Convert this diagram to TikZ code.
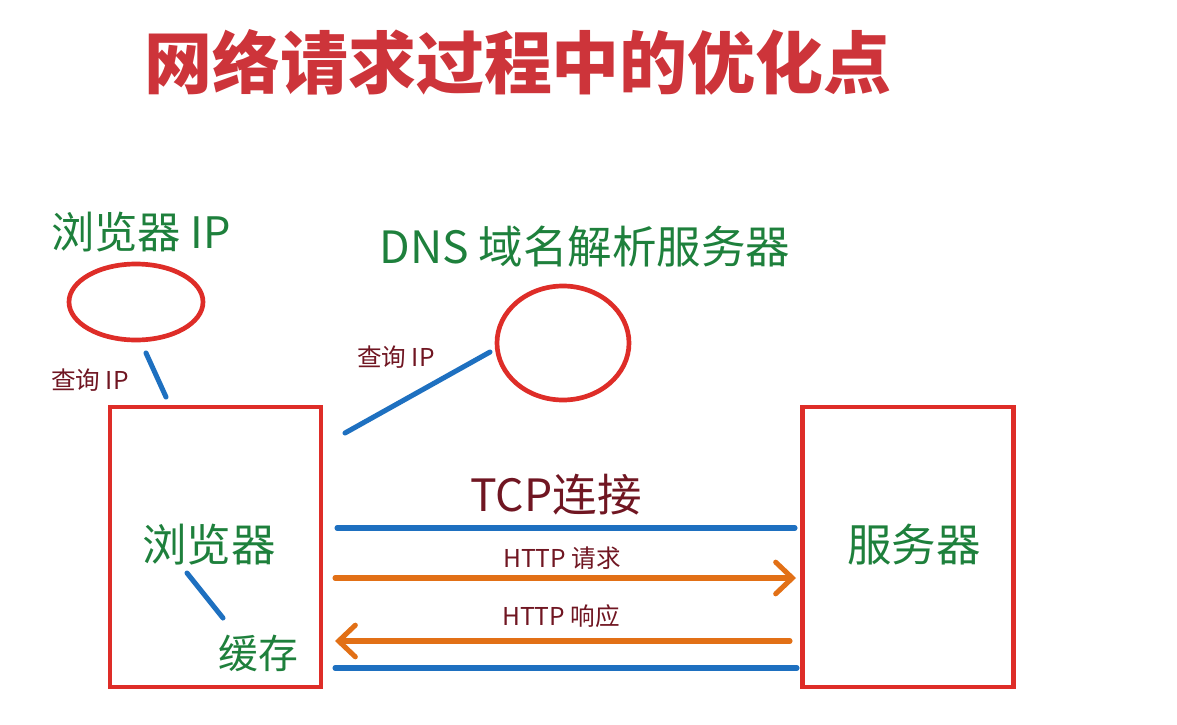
\documentclass[tikz,border=0pt]{standalone}
\usepackage{fontspec}
\setmainfont{Noto Sans CJK SC}[BoldFont={Noto Sans CJK SC Bold}]
\newfontfamily\heavyfont{Noto Sans CJK SC Black}
\usetikzlibrary{shapes.geometric,arrows.meta}
\definecolor{boxred}{RGB}{222,45,40}
\definecolor{linkblue}{RGB}{30,112,192}
\definecolor{reqorange}{RGB}{226,112,22}
\definecolor{labelgreen}{RGB}{30,128,60}
\definecolor{notered}{RGB}{112,22,34}
\definecolor{titlered}{RGB}{205,52,58}

\begin{document}
\begin{tikzpicture}[x=0.03cm,y=-0.03cm,
  box/.style={rectangle,draw=boxred,line width=3.5pt,minimum width=6.33cm,
              minimum height=8.4cm},
  oval/.style={ellipse,draw=boxred,line width=4pt,inner sep=0pt},
  big/.style={text=labelgreen,inner sep=0pt,font=\fontsize{38}{40}\selectfont},
  small/.style={text=notered,inner sep=0pt,font=\fontsize{21}{24}\selectfont},
  link/.style={draw=linkblue,line width=4.3pt,line cap=round},
  msg/.style={draw=reqorange,line width=4.3pt,line cap=round,
              -{Straight Barb[length=0.5cm,width=0.95cm,line cap=round]}}
]
\useasboundingbox (0,0) rectangle (1177,724);

% title
\node[text=titlered,inner sep=0pt,font=\fontsize{58}{60}\heavyfont] (title) at (518,62) {网络请求过程中的优化点};

% browser side
\node[big,font=\fontsize{37}{40}\selectfont] (bipl) at (141,232) {浏览器 IP};
\node[oval,minimum width=4.02cm,minimum height=2.28cm] (bip) at (136,302) {};
\node[small] (q1) at (90,380) {查询 IP};
\node[box] (browser) at (215.5,547) {};
\node[big] (bname) at (209,545) {浏览器};
\node[big,font=\fontsize{34}{36}\selectfont] (cache) at (258,653) {缓存};

% dns
\node[big] (dnsl) at (585,247) {DNS 域名解析服务器};
\node[oval,minimum width=3.96cm,minimum height=3.42cm] (dns) at (563,343) {};
\node[small] (q2) at (396,357) {查询 IP};

% server
\node[box] (server) at (908,547) {};
\node[big] (sname) at (914,545) {服务器};

% messages
\node[text=notered,inner sep=0pt,font=\fontsize{38}{40}\selectfont] (tcp) at (556,495) {TCP连接};
\node[small] (req) at (562,558) {HTTP 请求};
\node[small] (resp) at (561,616) {HTTP 响应};

\coordinate (bipA) at (146,353);
\coordinate (bipB) at (166,397);
\coordinate (dnsA) at (345,433);
\coordinate (dnsB) at (490,352);
\coordinate (cacheA) at (187,573);
\coordinate (cacheB) at (223,618);
\coordinate (tcpA) at (337,528);
\coordinate (tcpB) at (795,528);
\coordinate (reqA) at (335,578);
\coordinate (reqB) at (796,578);
\coordinate (respA) at (790,641);
\coordinate (respB) at (335,641);
\coordinate (finA) at (335,668);
\coordinate (finB) at (797,668);

\draw[link] (bipA) -- (bipB);
\draw[link] (dnsA) -- (dnsB);
\draw[link] (cacheA) -- (cacheB);
\draw[link] (tcpA) -- (tcpB);
\draw[msg] (reqA) -- (reqB);
\draw[msg] (respA) -- (respB);
\draw[link] (finA) -- (finB);
\end{tikzpicture}
\end{document}
